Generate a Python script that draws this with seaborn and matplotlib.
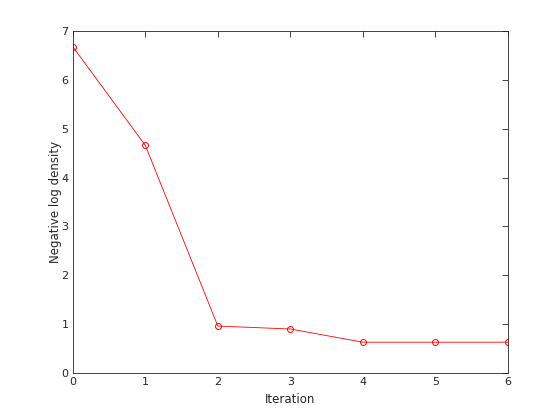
import matplotlib
matplotlib.use("Agg")
import matplotlib.pyplot as plt
import seaborn as sns
import pandas as pd

iteration = [0, 1, 2, 3, 4, 5, 6]
neg_log_density = [6.68, 4.66, 0.96, 0.90, 0.63, 0.63, 0.63]

sns.set_style("white")
plt.rcParams['font.family'] = ['DejaVu Sans']
plt.rcParams.update({'font.size': 8})

df = pd.DataFrame({'Iteration': iteration, 'Negative log density': neg_log_density})

fig = plt.figure(figsize=(5.6, 4.2), dpi=100)
ax = fig.add_axes([0.13, 0.112, 0.777, 0.814])
sns.lineplot(data=df, x='Iteration', y='Negative log density', ax=ax,
             color='red', linewidth=0.6, marker='o', markersize=4.3,
             markerfacecolor='none', markeredgecolor='red', markeredgewidth=0.7)

ax.set_xlim(0, 6)
ax.set_ylim(0, 7)
ax.set_xticks(range(0, 7))
ax.set_yticks(range(0, 8))
ax.tick_params(direction='in', length=4, width=0.6, top=True, right=True,
               colors='#262626', labelsize=8, pad=3)
for s in ax.spines.values():
    s.set_visible(True)
    s.set_color('#262626')
    s.set_linewidth(0.6)
ax.set_xlabel('Iteration', fontsize=8.5, color='#262626')
ax.set_ylabel('Negative log density', fontsize=8.5, color='#262626', labelpad=0)

fig.savefig('out.png', dpi=100)
